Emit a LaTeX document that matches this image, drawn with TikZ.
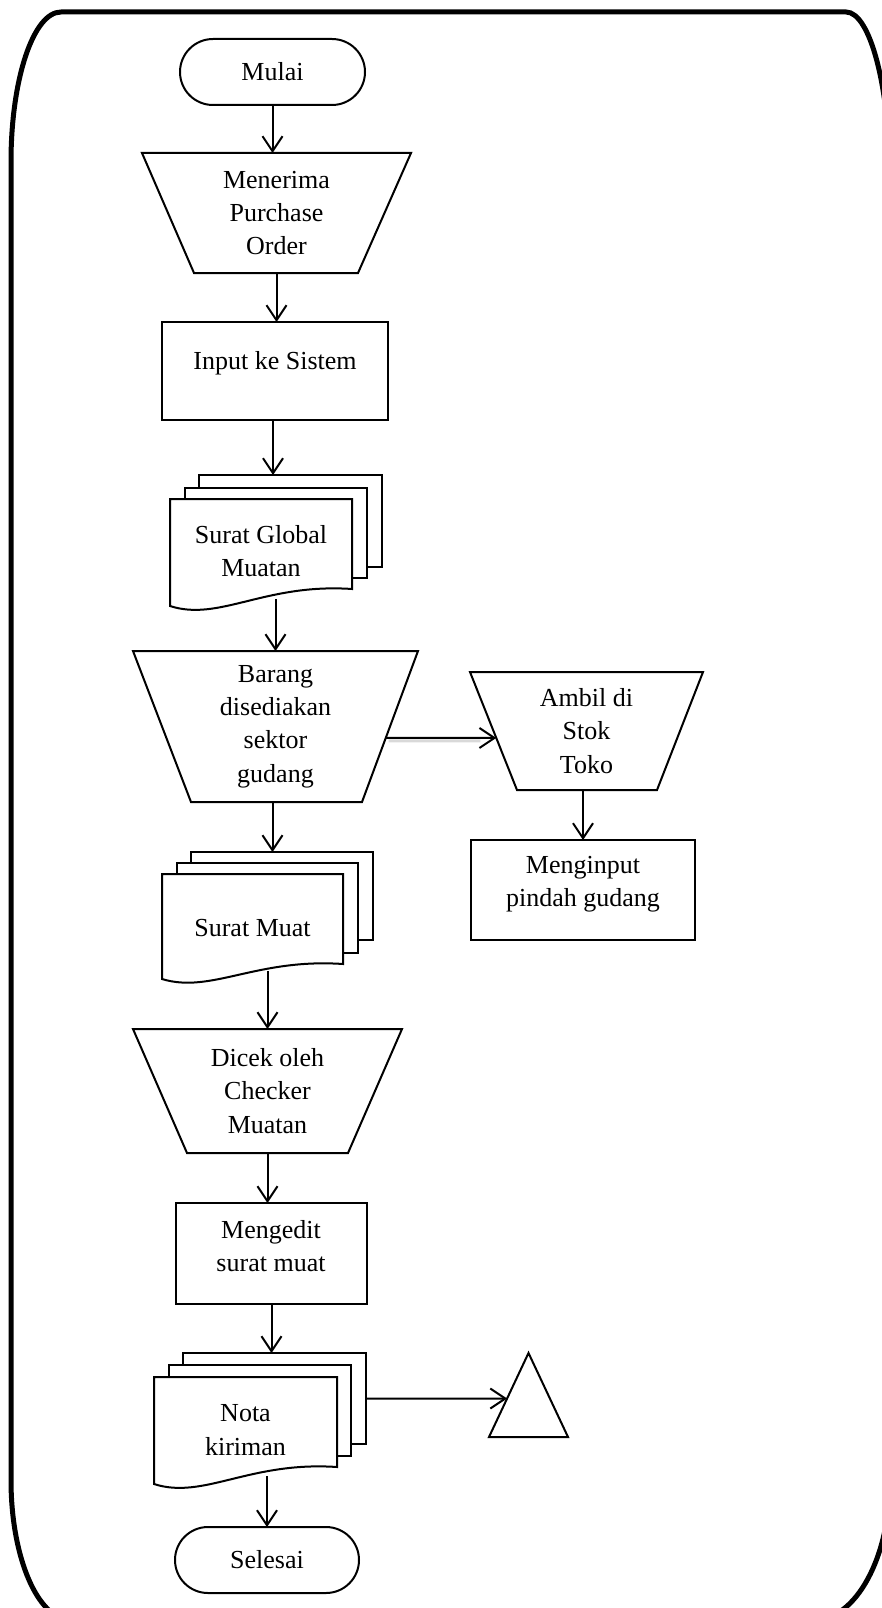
\documentclass[tikz,border=0pt]{standalone}
\usepackage{fontspec}
\setmainfont{Liberation Serif}
\usetikzlibrary{arrows.meta,calc}
\begin{document}
\begin{tikzpicture}[x=1pt,y=1pt,
  every node/.style={font=\fontsize{26}{33.3}\selectfont, inner sep=0pt, outer sep=0pt},
  shp/.style={draw, line width=2pt, fill=white},
  ghost/.style={draw=none, align=center},
  txt/.style={align=center},
  flow/.style={line width=2pt, -{Straight Barb[length=15pt,width=20pt]}},
  term/.style={shp, rounded corners=33pt, minimum width=185pt, minimum height=66pt},
  lane/.style={line width=5pt},
  outline/.style={line width=2pt, line join=miter},
  pagefront/.style={line width=2pt, line join=miter, fill=white},
]
\useasboundingbox (0,0) rectangle (882,-1608);
\clip (0,0) rectangle (882,-1608);

% outer border
\draw[lane] (61,-12) -- (846,-12)
  arc[start angle=90, end angle=0, x radius=44pt, y radius=170pt]
  -- (890,-1480)
  arc[start angle=0, end angle=-90, x radius=76pt, y radius=140pt]
  -- (71,-1620)
  arc[start angle=270, end angle=180, x radius=60pt, y radius=140pt]
  -- (11,-162)
  arc[start angle=180, end angle=90, x radius=50pt, y radius=150pt]
  -- cycle;

% Mulai
\node[term] (mulai) at (272.5,-72) {Mulai};

% Menerima Purchase Order
\node[ghost, minimum width=269pt, minimum height=120pt] (terima) at (276.5,-213) {Menerima\\Purchase\\Order};
\draw[outline] (terima.north west) -- (terima.north east) -- ($(terima.south east)+(-53,0)$) -- ($(terima.south west)+(52,0)$) -- cycle;

% Input ke Sistem
\node[shp, minimum width=226pt, minimum height=98pt] (input) at (275,-371) {};
\node[txt] (inputT) at (275,-363) {Input ke Sistem};

% Surat Global Muatan
\node[shp, minimum width=183pt, minimum height=92pt] (sgB) at (290.5,-521) {};
\node[shp, minimum width=182pt, minimum height=90pt] (sgM) at (276,-533) {};
\node[ghost, minimum width=182pt, minimum height=107pt] (sgF) at (261,-552.5) {};
\draw[pagefront] ($(sgF.south east)+(0,17)$) -- (sgF.north east) -- (sgF.north west) -- (sgF.south west)
  .. controls ($(sgF.south west)+(0.27*182,-16)$) and ($(sgF.south west)+(0.52*182,23)$) .. ($(sgF.south east)+(0,17)$) -- cycle;
\node[txt] (sgT) at (261,-551) {Surat Global\\Muatan};

% Barang disediakan sektor gudang
\node[ghost, minimum width=285pt, minimum height=151pt] (barang) at (275.5,-726.5) {Barang\\disediakan\\sektor\\gudang};
\coordinate (barangSE) at ($(barang.south east)+(-56,0)$);
\coordinate (barangSW) at ($(barang.south west)+(58,0)$);
\draw[outline] (barang.north west) -- (barang.north east) -- (barangSE) -- (barangSW) -- cycle;

% Ambil di Stok Toko
\node[ghost, minimum width=233pt, minimum height=118pt] (ambil) at (586.5,-731) {Ambil di\\Stok\\Toko};
\coordinate (ambilSE) at ($(ambil.south east)+(-46,0)$);
\coordinate (ambilSW) at ($(ambil.south west)+(47,0)$);
\draw[outline] (ambil.north west) -- (ambil.north east) -- (ambilSE) -- (ambilSW) -- cycle;

% Menginput pindah gudang
\node[shp, minimum width=224pt, minimum height=100pt] (pindah) at (583,-890) {};
\node[txt] (pindahT) at (583,-884) {Menginput\\pindah gudang};

% Surat Muat
\node[shp, minimum width=182pt, minimum height=88pt] (smB) at (282,-896) {};
\node[shp, minimum width=181pt, minimum height=90pt] (smM) at (267.5,-908) {};
\node[ghost, minimum width=181pt, minimum height=105pt] (smF) at (252.5,-926.5) {};
\draw[pagefront] ($(smF.south east)+(0,15)$) -- (smF.north east) -- (smF.north west) -- (smF.south west)
  .. controls ($(smF.south west)+(0.27*181,-15)$) and ($(smF.south west)+(0.52*181,21)$) .. ($(smF.south east)+(0,15)$) -- cycle;
\node[txt] (smT) at (252.5,-928) {Surat Muat};

% Dicek oleh Checker Muatan
\node[ghost, minimum width=269pt, minimum height=124pt] (dicek) at (267.5,-1091) {Dicek oleh\\Checker\\Muatan};
\draw[outline] (dicek.north west) -- (dicek.north east) -- ($(dicek.south east)+(-54,0)$) -- ($(dicek.south west)+(54,0)$) -- cycle;

% Mengedit surat muat
\node[shp, minimum width=191pt, minimum height=101pt] (edit) at (271.5,-1253.5) {};
\node[txt] (editT) at (271,-1246) {Mengedit\\surat muat};

% Nota kiriman
\node[shp, minimum width=183pt, minimum height=91pt] (ntB) at (274.5,-1398.5) {};
\node[shp, minimum width=182pt, minimum height=91pt] (ntM) at (260,-1410.5) {};
\node[ghost, minimum width=183pt, minimum height=107pt] (ntF) at (245.5,-1430.5) {};
\draw[pagefront] ($(ntF.south east)+(0,17)$) -- (ntF.north east) -- (ntF.north west) -- (ntF.south west)
  .. controls ($(ntF.south west)+(0.27*183,-16)$) and ($(ntF.south west)+(0.52*183,23)$) .. ($(ntF.south east)+(0,17)$) -- cycle;
\node[txt] (ntT) at (245.5,-1430) {Nota\\kiriman};

% off-page connector (triangle)
\node[ghost, minimum width=79pt, minimum height=84pt] (tri) at (528.5,-1395) {};
\draw[outline] (tri.south west) -- (tri.north) -- (tri.south east) -- cycle;

% Selesai
\node[term, minimum width=184pt] (selesai) at (267,-1560) {Selesai};

% connectors
\draw[flow] (mulai.south) -- (mulai.south |- terima.north);
\draw[flow] (terima.south) -- (terima.south |- input.north);
\draw[flow] ([xshift=-2pt]input.south) -- ([xshift=-2pt]input.south |- sgB.north);
\draw[flow] ($(barang.north |- sgF.south)+(0,7)$) -- (barang.north);
\draw[flow] ([xshift=-3pt]barang.south) -- ([xshift=-3pt]barang.south |- smB.north);
\draw[flow] ($(dicek.north |- smF.south)+(0,8)$) -- (dicek.north);
\draw[flow] (dicek.south) -- (dicek.south |- edit.north);
\draw[flow] (edit.south) -- (edit.south |- ntB.north);
\draw[flow] ($(selesai.north |- ntF.south)+(0,8)$) -- (selesai.north);
\draw[flow] (ntB.east) -- ($(tri.north)!0.542!(tri.south west)$);
\coordinate (bR) at ($(barang.north east)!0.576!(barangSE)$);
\coordinate (aL) at ($(ambil.north west)!0.559!(ambilSW)$);
\draw[black!15, line width=3pt] ($(bR)+(3,-3)$) -- ($(aL)+(-16,-3)$);
\draw[flow] (bR) -- (aL);
\draw[flow] (pindah.north |- ambil.south) -- (pindah.north);
\end{tikzpicture}
\end{document}
